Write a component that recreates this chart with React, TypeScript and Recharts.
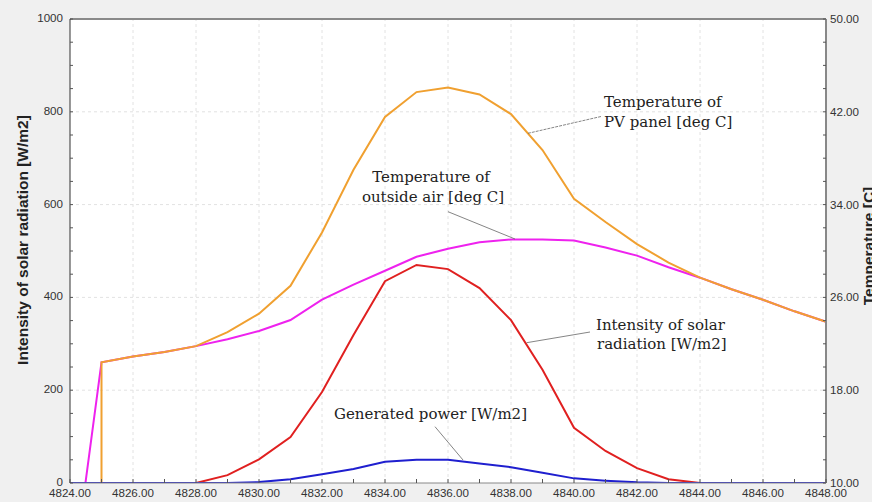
import React from 'react';
import { LineChart, Line, XAxis, YAxis, CartesianGrid, ReferenceLine } from 'recharts';

// hour of the year
const hours = [
  4824, 4825, 4826, 4827, 4828, 4829, 4830, 4831, 4832, 4833, 4834, 4835, 4836,
  4837, 4838, 4839, 4840, 4841, 4842, 4843, 4844, 4845, 4846, 4847, 4848,
];

// W/m2, left axis
const solarIntensity = [0, 0, 0, 0, 0, 17, 51, 99, 196, 319, 435, 470, 461, 420, 351, 244, 119, 69, 32, 8, 0, 0, 0, 0, 0];
const generatedPower = [0, 0, 0, 0, 0, 0, 2, 8, 19, 30, 46, 50, 50, 42, 34, 22, 10, 5, 1.5, 0, 0, 0, 0, 0, 0];

// deg C, right axis
const airTemp = [0, 20.4, 20.9, 21.3, 21.8, 22.4, 23.1, 24.05, 25.8, 27.1, 28.3, 29.5, 30.2, 30.75, 31.0, 31.0, 30.9, 30.3, 29.6, 28.6, 27.7, 26.7, 25.8, 24.8, 23.9];
const pvTemp = [null, 20.4, 20.9, 21.3, 21.8, 23.0, 24.6, 27.0, 31.6, 37.0, 41.55, 43.7, 44.1, 43.5, 41.8, 38.7, 34.5, 32.5, 30.6, 29.0, 27.7, 26.7, 25.8, 24.8, 23.9];
const pvTempStart = { hour: 4825, pv: 0 };

const xLabels = [4824, 4826, 4828, 4830, 4832, 4834, 4836, 4838, 4840, 4842, 4844, 4846, 4848];
const leftLabels = [0, 200, 400, 600, 800, 1000];
const rightLabels = [10, 18, 26, 34, 42, 50];

const rows = hours.map((h, i) => ({
  hour: h,
  solar: solarIntensity[i],
  power: generatedPower[i],
  air: airTemp[i],
}));
const pvRows = [pvTempStart, ...hours.map((h, i) => ({ hour: h, pv: pvTemp[i] })).filter((r) => r.pv !== null)];

const xTicks: number[] = [];
for (let v = 4824; v <= 4848; v++) xTicks.push(v);
const leftTicks: number[] = [];
for (let v = 0; v <= 1000; v += 50) leftTicks.push(v);
const rightTicks: number[] = [];
for (let v = 10; v <= 50; v += 2) rightTicks.push(v);

const tickFont = { fontFamily: '"Liberation Sans", Arial, sans-serif', fontSize: 11.6, fill: '#333' };
const noteFont = { fontFamily: '"DejaVu Serif", serif', fontSize: 15, fill: '#222' };

const XTick = (props: any) => {
  const { x, y, payload } = props;
  const v = payload.value;
  return (
    <g>
      <line x1={x} x2={x} y1={y} y2={y - 4} stroke="#555" />
      {xLabels.includes(v) && (
        <text x={x} y={y + 14} textAnchor="middle" {...tickFont}>
          {v.toFixed(2)}
        </text>
      )}
    </g>
  );
};

const LeftTick = (props: any) => {
  const { x, y, payload } = props;
  const v = payload.value;
  return (
    <g>
      <line x1={x} x2={x + 3} y1={y} y2={y} stroke="#555" />
      {leftLabels.includes(v) && (
        <text x={x - 7} y={y - 1} dy="0.35em" textAnchor="end" {...tickFont}>
          {v}
        </text>
      )}
    </g>
  );
};

const RightTick = (props: any) => {
  const { x, y, payload } = props;
  const v = payload.value;
  return (
    <g>
      <line x1={x} x2={x - 3} y1={y} y2={y} stroke="#555" />
      {rightLabels.includes(v) && (
        <text x={x + 4} y={y} dy="0.35em" textAnchor="start" {...tickFont}>
          {v.toFixed(2)}
        </text>
      )}
    </g>
  );
};

export default function App() {
  return (
    <div style={{ position: 'fixed', left: 0, top: 0, width: 872, height: 502, background: '#f0f0f0' }}>
      <LineChart width={872} height={502} data={rows} margin={{ top: 19, right: 0, bottom: 0, left: 0 }}>
        <CartesianGrid fill="#ffffff" horizontal={false} vertical={false} yAxisId="left" />
        <XAxis
          dataKey="hour"
          type="number"
          domain={[4824, 4848]}
          ticks={xTicks}
          interval={0}
          height={19}
          tickSize={0}
          tickMargin={0}
          tick={<XTick />}
          axisLine={{ stroke: '#888' }}
          tickLine={false}
          allowDuplicatedCategory={false}
        />
        <YAxis
          yAxisId="left"
          domain={[0, 1000]}
          ticks={leftTicks}
          interval={0}
          width={70}
          tickSize={0}
          tickMargin={0}
          tick={<LeftTick />}
          axisLine={{ stroke: '#333' }}
          tickLine={false}
          allowDataOverflow
        />
        <YAxis
          yAxisId="right"
          orientation="right"
          domain={[10, 50]}
          ticks={rightTicks}
          interval={0}
          width={46}
          tickSize={0}
          tickMargin={0}
          tick={<RightTick />}
          axisLine={{ stroke: '#888', strokeWidth: 2 }}
          tickLine={false}
          allowDataOverflow
        />
        {xLabels.slice(1, -1).map((v) => (
          <ReferenceLine key={'gx' + v} x={v} yAxisId="left" stroke="#e2e2e2" strokeDasharray="3 3" />
        ))}
        {leftLabels.slice(1, -1).map((v) => (
          <ReferenceLine key={'gy' + v} y={v} yAxisId="left" stroke="#e2e2e2" strokeDasharray="3 3" />
        ))}
        <ReferenceLine y={1000} yAxisId="left" stroke="#8a8a8a" strokeWidth={2} />
        <Line yAxisId="right" dataKey="air" stroke="#ee22ee" strokeWidth={2} dot={false} activeDot={false} isAnimationActive={false} />
        <Line yAxisId="right" data={pvRows} dataKey="pv" stroke="#f0a030" strokeWidth={2} dot={false} activeDot={false} isAnimationActive={false} />
        <Line yAxisId="left" dataKey="solar" stroke="#e02020" strokeWidth={2} dot={false} activeDot={false} isAnimationActive={false} />
        <Line yAxisId="left" dataKey="power" stroke="#1f1fcf" strokeWidth={2} dot={false} activeDot={false} isAnimationActive={false} />
      </LineChart>
      <svg width={872} height={502} style={{ position: 'absolute', left: 0, top: 0, pointerEvents: 'none' }}>
        <text
          transform="translate(28, 240) rotate(-90)"
          textAnchor="middle"
          fontFamily='"Liberation Sans", Arial, sans-serif'
          fontWeight="bold"
          fontSize={15.5}
          fill="#222"
        >
          Intensity of solar radiation [W/m2]
        </text>
        <text
          transform="translate(874, 246) rotate(-90)"
          textAnchor="middle"
          fontFamily='"Liberation Sans", Arial, sans-serif'
          fontWeight="bold"
          fontSize={15.5}
          fill="#222"
        >
          Temperature [C]
        </text>

        <line x1={601} y1={116.5} x2={528} y2={133.3} stroke="#666" strokeWidth={0.8} strokeDasharray="3 1" />
        <text x={604} y={107} {...noteFont}>Temperature of</text>
        <text x={604} y={126.5} {...noteFont}>PV panel [deg C]</text>

        <line x1={448} y1={211.7} x2={515} y2={239} stroke="#666" strokeWidth={0.8} />
        <text x={431} y={182} textAnchor="middle" {...noteFont}>Temperature of</text>
        <text x={433} y={201.5} textAnchor="middle" {...noteFont}>outside air [deg C]</text>

        <line x1={590} y1={332} x2={526.7} y2={342.7} stroke="#666" strokeWidth={0.8} />
        <text x={596} y={330} {...noteFont}>Intensity of solar</text>
        <text x={597} y={348.5} {...noteFont}>radiation [W/m2]</text>

        <line x1={435} y1={426.7} x2={463} y2={460} stroke="#666" strokeWidth={0.8} />
        <text x={334} y={419} {...noteFont}>Generated power [W/m2]</text>
      </svg>
    </div>
  );
}
